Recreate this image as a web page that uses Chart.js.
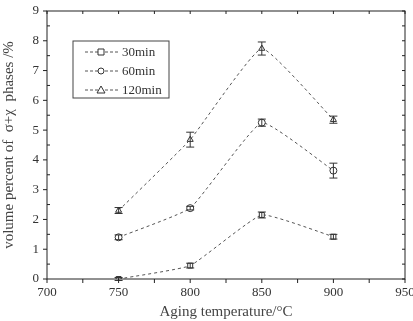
<!DOCTYPE html>
<html>
<head>
<meta charset="UTF-8">
<title>Aging temperature</title>
<script src="https://cdn.jsdelivr.net/npm/chart.js"></script>
<style>
  html, body { margin: 0; padding: 0; background: #fff; }
  #wrap { width: 413px; height: 321px; position: relative; }
</style>
</head>
<body>
<div id="wrap"><canvas id="lineChart"></canvas></div>
<script>
  const temps = [750, 800, 850, 900];
  const min30 = [0.0, 0.45, 2.15, 1.42];
  const min60 = [1.4, 2.38, 5.25, 3.64];
  const min120 = [2.3, 4.68, 7.74, 5.35];
  const err30 = [0.05, 0.08, 0.1, 0.08];
  const err60 = [0.08, 0.06, 0.12, 0.25];
  const err120 = [0.1, 0.25, 0.22, 0.12];
  const seriesLabels = ['30min', '60min', '120min'];

  const serif = "'Liberation Serif', 'DejaVu Serif', serif";
  const ink = '#333';

  function pts(vals) {
    return temps.map((t, i) => ({ x: t, y: vals[i] }));
  }

  // error bars, ticks, frame and legend
  const decor = {
    id: 'decor',
    afterDatasetsDraw(chart) {
      const ctx = chart.ctx;
      const xs = chart.scales.x, ys = chart.scales.y;
      const errs = [err30, err60, err120];
      ctx.save();
      ctx.strokeStyle = ink;
      ctx.lineWidth = 1;
      errs.forEach((e, di) => {
        chart.data.datasets[di].data.forEach((p, i) => {
          const px = xs.getPixelForValue(p.x);
          const top = ys.getPixelForValue(p.y + e[i]);
          const bot = ys.getPixelForValue(p.y - e[i]);
          ctx.beginPath();
          ctx.moveTo(px, top); ctx.lineTo(px, bot);
          ctx.moveTo(px - 4, top); ctx.lineTo(px + 4, top);
          ctx.moveTo(px - 4, bot); ctx.lineTo(px + 4, bot);
          ctx.stroke();
        });
      });
      const a = chart.chartArea;
      ctx.strokeStyle = '#222';
      ctx.strokeRect(a.left, a.top, a.right - a.left, a.bottom - a.top);
      ctx.beginPath();
      for (let v = 700; v <= 950; v += 25) {
        const px = xs.getPixelForValue(v);
        ctx.moveTo(px, a.bottom); ctx.lineTo(px, a.bottom + 4);
        ctx.moveTo(px, a.top); ctx.lineTo(px, a.top + 3);
      }
      for (let v = 0; v <= 9; v += 0.5) {
        const py = ys.getPixelForValue(v);
        if (Number.isInteger(v)) {
          ctx.moveTo(a.left, py); ctx.lineTo(a.left - 4, py);
        } else {
          ctx.moveTo(a.left, py); ctx.lineTo(a.left + 3, py);
        }
        ctx.moveTo(a.right, py); ctx.lineTo(a.right - 3, py);
      }
      ctx.stroke();
      // legend box
      const lx = 73, ly = 41, lw = 96, lh = 57;
      ctx.strokeStyle = '#444';
      ctx.strokeRect(lx, ly, lw, lh);
      ctx.font = '13px ' + serif;
      ctx.textBaseline = 'middle';
      chart.data.datasets.forEach((ds, i) => {
        const y = ly + 11 + i * 19;
        ctx.strokeStyle = '#555';
        ctx.setLineDash([3, 2]);
        ctx.beginPath();
        ctx.moveTo(lx + 12, y); ctx.lineTo(lx + 46, y);
        ctx.stroke();
        ctx.setLineDash([]);
        ctx.strokeStyle = ink;
        ctx.fillStyle = '#fff';
        const mx = lx + 28;
        ctx.beginPath();
        if (ds.pointStyle === 'rect') {
          ctx.rect(mx - 3, y - 3, 6, 6);
        } else if (ds.pointStyle === 'circle') {
          ctx.arc(mx, y, 3, 0, Math.PI * 2);
        } else {
          ctx.moveTo(mx, y - 4); ctx.lineTo(mx + 4, y + 3); ctx.lineTo(mx - 4, y + 3); ctx.closePath();
        }
        ctx.fill(); ctx.stroke();
        ctx.fillStyle = ink;
        ctx.textAlign = 'left';
        ctx.fillText(ds.label, lx + 49, y + 1);
      });
      ctx.restore();
    }
  };

  function ds(label, vals, style) {
    return {
      label: label,
      data: pts(vals),
      borderColor: '#555',
      borderWidth: 1,
      borderDash: [3, 3],
      tension: 0.12,
      pointStyle: style,
      pointRadius: 3.5,
      pointBorderWidth: 1,
      pointBorderColor: ink,
      pointBackgroundColor: '#fff',
      fill: false
    };
  }

  new Chart(document.getElementById('lineChart'), {
    type: 'line',
    data: {
      datasets: [
        ds(seriesLabels[0], min30, 'rect'),
        ds(seriesLabels[1], min60, 'circle'),
        ds(seriesLabels[2], min120, 'triangle')
      ]
    },
    options: {
      responsive: true,
      maintainAspectRatio: false,
      animation: false,
      layout: { padding: { top: 11, right: 8, left: 0, bottom: 0 } },
      plugins: { legend: { display: false }, tooltip: { enabled: false } },
      scales: {
        x: {
          type: 'linear',
          min: 700, max: 950,
          ticks: { stepSize: 50, color: ink, font: { family: serif, size: 13 }, padding: 6, maxRotation: 0 },
          grid: { display: false, drawTicks: false },
          border: { display: false },
          title: { display: true, text: 'Aging temperature/\u00B0C', color: '#444', font: { family: serif, size: 15 }, padding: { top: 0, bottom: 0 } },
          afterFit: s => { s.height = 42; s.paddingLeft = 0; s.paddingRight = 0; }
        },
        y: {
          min: 0, max: 9,
          ticks: { stepSize: 1, color: ink, font: { family: serif, size: 13 }, padding: 8 },
          grid: { display: false, drawTicks: false },
          border: { display: false },
          title: { display: true, text: 'volume percent of  \u03C3+\u03C7  phases /%', color: '#444', font: { family: serif, size: 15 }, padding: { top: 0, bottom: 0 } },
          afterFit: s => { s.width = 47; s.paddingTop = 0; s.paddingBottom = 0; }
        }
      }
    },
    plugins: [decor]
  });
</script>
</body>
</html>
